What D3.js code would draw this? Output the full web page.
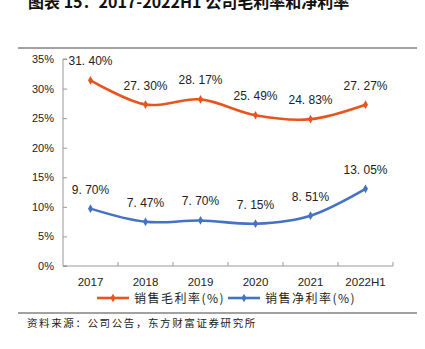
<!DOCTYPE html>
<html>
<head>
<meta charset="utf-8">
<script src="https://cdn.jsdelivr.net/npm/d3@7"></script>
<style>
  body { margin: 0; background: #fff; }
  svg { display: block; }
</style>
</head>
<body>
<script>
  var years = ['2017', '2018', '2019', '2020', '2021', '2022H1'];
  var grossMargin = [31.40, 27.30, 28.17, 25.49, 24.83, 27.27];
  var netMargin = [9.70, 7.47, 7.70, 7.15, 8.51, 13.05];
  var yTicks = [0, 5, 10, 15, 20, 25, 30, 35];
  var seriesNames = ['销售毛利率(%)', '销售净利率(%)'];
  var colors = ['#E8541F', '#4472C4'];

  var width = 425, height = 349;

  var svg = d3.select('body').append('svg')
      .attr('width', width)
      .attr('height', height);

  // title (cut at the top in the original)
  svg.append('text')
      .attr('x', 28)
      .attr('y', 8)
      .attr('font-family', 'Noto Sans CJK SC')
      .attr('font-weight', 'bold')
      .attr('font-size', 16)
      .attr('fill', '#111')
      .text('图表 15：2017-2022H1 公司毛利率和净利率');

  svg.append('line')
      .attr('x1', 18).attr('x2', 417).attr('y1', 48).attr('y2', 48)
      .attr('stroke', '#444').attr('stroke-width', 1);

  svg.append('line')
      .attr('x1', 18).attr('x2', 417).attr('y1', 313).attr('y2', 313)
      .attr('stroke', '#444').attr('stroke-width', 1);

  svg.append('text')
      .attr('x', 27)
      .attr('y', 327)
      .attr('font-family', 'Noto Sans CJK SC')
      .attr('font-size', 10.5)
      .attr('letter-spacing', 1.6)
      .attr('fill', '#222')
      .text('资料来源：公司公告，东方财富证券研究所');

  var x = d3.scaleBand().domain(years).range([63, 393]);
  var y = d3.scaleLinear().domain([0, 35]).range([266, 59]);

  // y axis
  var yAxis = svg.append('g')
      .attr('transform', 'translate(63,0)')
      .call(d3.axisRight(y).tickValues(yTicks).tickSize(4).tickFormat(''));
  yAxis.select('.domain').attr('stroke', '#999').attr('d', 'M4,59H0V266H4');
  yAxis.selectAll('.tick line').attr('stroke', '#999');

  svg.append('g').selectAll('text')
      .data(yTicks)
    .enter().append('text')
      .attr('x', 54)
      .attr('y', function(d) { return y(d) + 4; })
      .attr('text-anchor', 'end')
      .attr('font-family', 'Liberation Sans, Arial')
      .attr('font-size', 11)
      .attr('fill', '#222')
      .text(function(d) { return d + '%'; });

  // x axis
  var xAxis = svg.append('g')
      .attr('transform', 'translate(0,266)')
      .call(d3.axisBottom(x).tickSize(0).tickFormat(''));
  xAxis.select('.domain').attr('stroke', '#999').attr('d', 'M63,0H393V-4');
  xAxis.selectAll('.tick').remove();

  svg.append('g').selectAll('line')
      .data(years.slice(1))
    .enter().append('line')
      .attr('x1', function(d) { return x(d); })
      .attr('x2', function(d) { return x(d); })
      .attr('y1', 266).attr('y2', 262)
      .attr('stroke', '#999');

  svg.append('g').selectAll('text')
      .data(years)
    .enter().append('text')
      .attr('x', function(d) { return x(d) + x.bandwidth() / 2; })
      .attr('y', 286)
      .attr('text-anchor', 'middle')
      .attr('font-family', 'Liberation Sans, Arial')
      .attr('font-size', 11.5)
      .attr('fill', '#222')
      .text(function(d) { return d; });

  var line = d3.line()
      .x(function(d, i) { return x(years[i]) + x.bandwidth() / 2; })
      .y(function(d) { return y(d); })
      .curve(d3.curveCardinal);

  var diamond = d3.symbol().type(d3.symbolDiamond).size(22);

  [grossMargin, netMargin].forEach(function(series, k) {
    var g = svg.append('g');
    g.append('path')
        .attr('d', line(series))
        .attr('fill', 'none')
        .attr('stroke', colors[k])
        .attr('stroke-width', 2.6);

    g.selectAll('.pt')
        .data(series)
      .enter().append('path')
        .attr('transform', function(d, i) {
            return 'translate(' + (x(years[i]) + x.bandwidth() / 2) + ',' + y(d) + ')';
        })
        .attr('d', diamond)
        .attr('fill', colors[k]);

    g.selectAll('.lbl')
        .data(series)
      .enter().append('text')
        .attr('x', function(d, i) { return x(years[i]) + x.bandwidth() / 2; })
        .attr('y', function(d) { return y(d) - 15; })
        .attr('text-anchor', 'middle')
        .attr('font-family', 'Liberation Sans, Arial')
        .attr('font-size', 12)
        .attr('fill', '#222')
        .text(function(d) { return d.toFixed(2).replace('.', '. ') + '%'; });
  });

  // legend
  var legendX = [97, 228];
  seriesNames.forEach(function(name, k) {
    var lg = svg.append('g').attr('transform', 'translate(' + legendX[k] + ',298)');
    lg.append('line')
        .attr('x1', 0).attr('x2', 32).attr('y1', 0).attr('y2', 0)
        .attr('stroke', colors[k]).attr('stroke-width', 2.6);
    lg.append('path')
        .attr('transform', 'translate(16,0)')
        .attr('d', diamond)
        .attr('fill', colors[k]);
    lg.append('text')
        .attr('x', 37)
        .attr('y', 4.5)
        .attr('font-family', 'Noto Sans CJK SC')
        .attr('font-size', 12)
        .attr('letter-spacing', 1.5)
        .attr('fill', '#222')
        .text(name);
  });
</script>
</body>
</html>
